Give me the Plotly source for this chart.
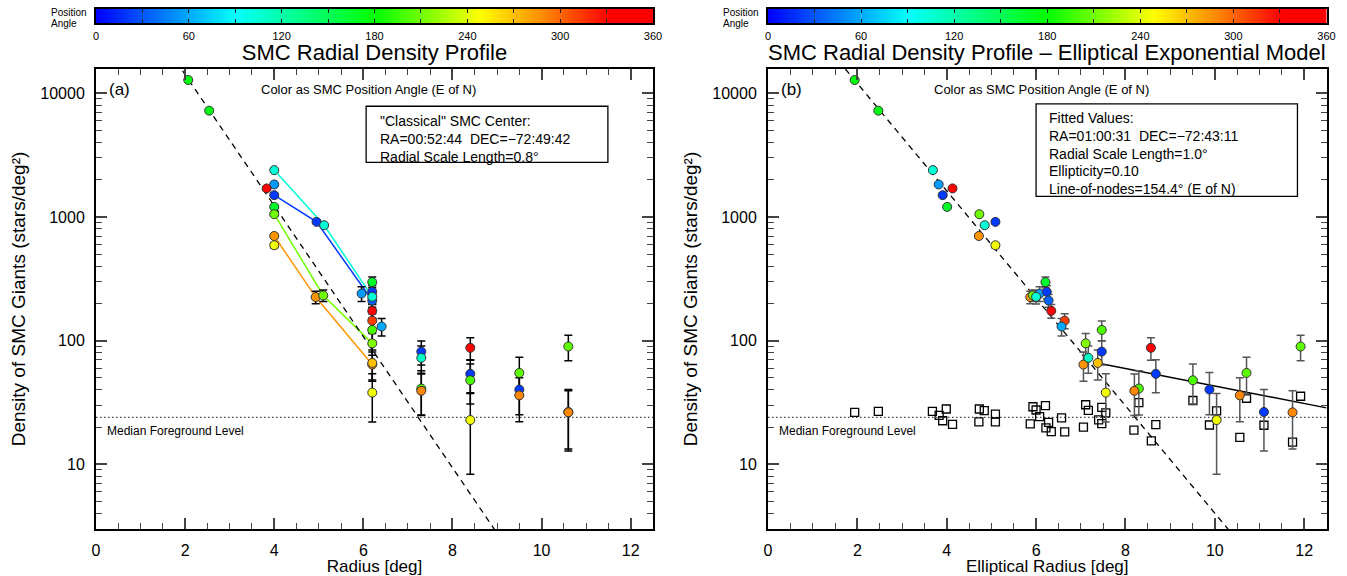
import numpy as np
import plotly.graph_objects as go
from plotly.colors import sample_colorscale

# ---- field measurements: position angle (deg E of N), radius, elliptical radius, density, error
field_pa = [175, 175, 105, 55, 20, 340, 165, 210, 285, 245, 20, 105, 285, 210, 55,
            165, 20, 35, 105, 340, 312, 200, 215, 285, 270, 245, 60,
            20, 110, 200, 290, 340, 20, 200, 245, 205, 20, 290, 205, 20, 290]
field_r = [2.07, 2.54, 4.00, 4.00, 4.00, 3.83, 4.00, 4.00, 4.00, 4.00, 4.95, 5.12, 4.93, 5.10, 5.96,
           6.20, 6.20, 6.20, 6.20, 6.20, 6.20, 6.20, 6.20, 6.20, 6.20, 6.20, 6.41,
           7.30, 7.30, 7.30, 7.30, 8.40, 8.40, 8.40, 8.40, 9.50, 9.50, 9.50, 10.60, 10.60, 10.60]
field_rell = [1.94, 2.47, 3.69, 3.82, 3.91, 4.13, 4.01, 4.73, 4.72, 5.09, 5.09, 4.85, 5.87, 5.93, 6.08,
              6.21, 6.24, 6.28, 6.00, 6.34, 6.64, 7.47, 7.11, 7.06, 7.38, 7.56, 6.57,
              7.47, 7.17, 8.30, 8.20, 8.57, 8.68, 9.51, 10.04, 10.71, 9.88, 10.56, 11.92, 11.10, 11.74]
field_dens = [12800, 7230, 2390, 1830, 1500, 1700, 1205, 1052, 701, 590, 912, 857, 225, 232, 240,
              297, 248, 211, 226, 174, 145, 122, 95, 64, 66, 38, 130,
              81.5, 72.6, 41.0, 39.3, 87.5, 53.9, 47.8, 22.8, 54.8, 40.2, 36.1, 89.6, 26.5, 26.3]
field_err = [250, 180, 60, 50, 45, 50, 40, 35, 30, 28, 25, 25, 26, 25, 33,
             30, 30, 25, 28, 22, 20, 22, 19, 17, 18, 16, 21,
             18, 18, 16, 14.5, 18, 16, 17, 14.5, 18.5, 15, 14, 21, 13.7, 13]

# foreground (background-field) densities vs elliptical radius
bg_rell = [1.94, 2.47, 3.68, 3.83, 3.99, 3.91, 4.13, 4.73, 4.84, 5.09, 4.72, 5.09,
           5.93, 6.00, 6.21, 6.08, 5.87, 6.28, 6.22, 6.34, 6.57, 6.64,
           7.11, 7.17, 7.06, 7.47, 7.56, 7.40, 7.47, 8.30, 8.19, 8.58, 8.68,
           9.51, 10.04, 9.88, 10.56, 10.71, 11.10, 11.74, 11.92]
bg_dens = [26.3, 26.8, 26.8, 24.9, 28.0, 22.5, 21.0, 28.0, 27.2, 25.5, 22.0, 22.0,
           29.2, 27.5, 29.8, 24.3, 21.2, 21.8, 19.7, 18.4, 23.7, 18.3,
           30.3, 27.3, 20.0, 28.9, 26.1, 22.9, 21.3, 31.5, 18.9, 15.5, 20.9,
           32.8, 27.0, 20.8, 16.5, 34.2, 20.7, 15.1, 35.5]

# fields along the same spoke, joined in panel (a)
spokes = [[2, 11, 18], [4, 10, 17], [7, 13, 22], [8, 12, 23]]

fg_level = 24.0               # median foreground level
# exponential models
h_a, n0_a = 0.82, 162000.0    # classical centre
h_b, n0_b = 1.0, 88700.0      # elliptical fit
h_halo, n0_halo, r_halo = 6.14, 219.0, 7.37

pa_ticks = [0, 60, 120, 180, 240, 300, 360]
pa_scale = list(range(0, 361))

colorscale = [[0.0, "rgb(0,0,255)"], [0.25, "rgb(0,255,255)"], [0.5, "rgb(0,255,0)"],
              [0.69, "rgb(255,255,0)"], [0.8, "rgb(255,140,0)"], [0.92, "rgb(255,0,0)"],
              [1.0, "rgb(255,0,0)"]]

FONT = "Liberation Sans"
W, H = 1347, 576
fig = go.Figure()

def pa_color(pa):
    return sample_colorscale(colorscale, [pa / 360.0])[0]

# ---------- panel (a)
for sp in spokes:
    fig.add_trace(go.Scatter(x=[field_r[i] for i in sp], y=[field_dens[i] for i in sp],
                             mode="lines", line=dict(color=pa_color(field_pa[sp[0]]), width=1.5),
                             xaxis="x", yaxis="y", hoverinfo="skip"))

rr = np.linspace(0, 12.5, 300)
fig.add_trace(go.Scatter(x=rr, y=n0_a * np.exp(-rr / h_a), mode="lines",
                         line=dict(color="black", width=1.3, dash="6px,5px"), xaxis="x", yaxis="y"))
fig.add_trace(go.Scatter(x=[0, 12.5], y=[fg_level, fg_level], mode="lines",
                         line=dict(color="#444", width=1.3, dash="1.5px,2.5px"), xaxis="x", yaxis="y"))
fig.add_trace(go.Scatter(
    x=field_r, y=field_dens, mode="markers", xaxis="x", yaxis="y",
    error_y=dict(type="data", array=field_err, color="black", thickness=1.5, width=4),
    marker=dict(size=9, color=field_pa, coloraxis="coloraxis", line=dict(color="#333", width=1))))

# ---------- panel (b)
fig.add_trace(go.Scatter(x=rr, y=n0_b * np.exp(-rr / h_b), mode="lines",
                         line=dict(color="black", width=1.3, dash="6px,5px"), xaxis="x2", yaxis="y2"))
rh = np.linspace(r_halo, 12.5, 50)
fig.add_trace(go.Scatter(x=rh, y=n0_halo * np.exp(-rh / h_halo), mode="lines",
                         line=dict(color="black", width=1.5), xaxis="x2", yaxis="y2"))
fig.add_trace(go.Scatter(x=[0, 12.5], y=[fg_level, fg_level], mode="lines",
                         line=dict(color="#444", width=1.3, dash="1.5px,2.5px"), xaxis="x2", yaxis="y2"))
fig.add_trace(go.Scatter(x=bg_rell, y=bg_dens, mode="markers", xaxis="x2", yaxis="y2",
                         marker=dict(symbol="square-open", size=8, color="black", line=dict(width=1.3))))
fig.add_trace(go.Scatter(
    x=field_rell, y=field_dens, mode="markers", xaxis="x2", yaxis="y2",
    error_y=dict(type="data", array=field_err, color="#555", thickness=1.5, width=4),
    marker=dict(size=9, color=field_pa, coloraxis="coloraxis", line=dict(color="#333", width=1))))

# ---------- position-angle colour strips above each panel
for xa, ya in (("x3", "y3"), ("x4", "y4")):
    fig.add_trace(go.Heatmap(z=[pa_scale], x=pa_scale, y=[0], colorscale=colorscale,
                             zmin=0, zmax=360, showscale=False, xaxis=xa, yaxis=ya, hoverinfo="skip"))

# ---------- axes
ylo, yhi = np.log10(3), np.log10(15700)
ydom = [1 - 529 / H, 1 - 69 / H]
xdoms = [[96 / W, 653 / W], [768 / W, 1326.5 / W]]
cbdom = [1 - 23 / H, 1 - 9 / H]
ytv = [10, 100, 1000, 10000]
ytitle = "Density of SMC Giants (stars/deg\u00b2)"

common_x = dict(range=[0, 12.5], dtick=2, tick0=0, ticks="inside", ticklen=11, tickwidth=1.5,
                minor=dict(dtick=0.5, ticks="inside", ticklen=6, tickwidth=1.2),
                mirror="allticks", showline=True, linewidth=2, linecolor="black",
                showgrid=False, zeroline=False, tickfont=dict(family=FONT, size=16, color="black"),
                ticklabelstandoff=6, automargin=False)
common_y = dict(type="log", range=[ylo, yhi], tickvals=ytv, ticktext=[str(v) for v in ytv],
                ticks="inside", ticklen=11, tickwidth=1.5,
                minor=dict(tickvals=[m * 10 ** e for e in range(0, 5) for m in range(2, 10)],
                           ticks="inside", ticklen=6, tickwidth=1.2),
                mirror="allticks", showline=True, linewidth=2, linecolor="black",
                showgrid=False, zeroline=False, tickfont=dict(family=FONT, size=16, color="black"),
                ticklabelstandoff=6, domain=ydom, automargin=False,
                title=dict(text=ytitle, font=dict(family=FONT, size=19, color="black"), standoff=10))
cb_x = dict(range=[0, 360], tickvals=pa_ticks, ticks="inside", ticklen=4, tickwidth=1, tickcolor="#222",
            minor=dict(dtick=30, ticks="inside", ticklen=4, tickwidth=1, tickcolor="#222"),
            mirror="allticks", showline=True, linewidth=1.5, linecolor="black", showgrid=False,
            zeroline=False, tickfont=dict(family=FONT, size=11, color="black"),
            ticklabelstandoff=2, automargin=False, fixedrange=True)
cb_y = dict(domain=cbdom, range=[-0.5, 0.5], showticklabels=False, ticks="", showline=True,
            linewidth=1.5, linecolor="black", mirror=True, showgrid=False, zeroline=False,
            automargin=False, fixedrange=True)

fig.update_layout(
    width=W, height=H, margin=dict(l=0, r=0, t=0, b=0),
    paper_bgcolor="white", plot_bgcolor="white", showlegend=False,
    title=dict(text="SMC Radial Density Profile", x=(96 + 653) / 2 / W, y=1 - 52 / H,
               xanchor="center", yanchor="middle", xref="paper", yref="paper",
               font=dict(family=FONT, size=22, color="black")),
    xaxis=dict(domain=xdoms[0], anchor="y",
               title=dict(text="Radius [deg]", font=dict(family=FONT, size=17, color="black"), standoff=4),
               **common_x),
    yaxis=dict(anchor="x", **common_y),
    xaxis2=dict(domain=xdoms[1], anchor="y2",
                title=dict(text="Elliptical Radius [deg]", font=dict(family=FONT, size=17, color="black"),
                           standoff=4),
                **common_x),
    yaxis2=dict(anchor="x2", **common_y),
    xaxis3=dict(domain=xdoms[0], anchor="y3", **cb_x),
    yaxis3=dict(anchor="x3", **cb_y),
    xaxis4=dict(domain=xdoms[1], anchor="y4", **cb_x),
    yaxis4=dict(anchor="x4", **cb_y),
    coloraxis=dict(colorscale=colorscale, cmin=0, cmax=360, showscale=False),
)

def txt(text, x, y, size, xref="paper", yref="paper", xanchor="center", yanchor="middle", angle=0):
    fig.add_annotation(text=text, x=x, y=y, xref=xref, yref=yref, xanchor=xanchor, yanchor=yanchor,
                       showarrow=False, textangle=angle,
                       font=dict(family=FONT, size=size, color="black"))

# second panel title and colour-strip labels
txt("SMC Radial Density Profile \u2013 Elliptical Exponential Model", (768 + 1326.5) / 2 / W, 1 - 52 / H, 22)
for xp in (49, 721):
    txt("Position", xp / W, 1 - 13 / H, 10, xanchor="left")
    txt("Angle", xp / W, 1 - 23 / H, 10, xanchor="left")

# in-panel labels
for ax, tag in (("x", "(a)"), ("x2", "(b)")):
    yax = "y" if ax == "x" else "y2"
    txt(tag, 0.02, 0.956, 17, xref=f"{ax} domain", yref=f"{yax} domain", xanchor="left")
    txt("Color as SMC Position Angle (E of N)", 0.49, 0.956, 13,
        xref=f"{ax} domain", yref=f"{yax} domain")
    txt("Median Foreground Level", 0.2, np.log10(18.7), 12, xref=ax, yref=yax, xanchor="left")

# info boxes
boxes = [
    ("x", "y", [0.485, 0.919, 0.797, 0.919], 0.506,
     ['"Classical" SMC Center:', "RA=00:52:44  DEC=\u221272:49:42",
      f"Radial Scale Length={h_a:.1f}\u00b0"], 122),
    ("x2", "y2", [0.480, 0.948, 0.723, 0.924], 0.50,
     ["Fitted Values:", "RA=01:00:31  DEC=\u221272:43:11", f"Radial Scale Length={h_b:.1f}\u00b0",
      "Ellipticity=0.10", "Line-of-nodes=154.4\u00b0 (E of N)"], 119),
]
for ax, yax, (x0, x1, y0, y1), xt, lines, ytop in boxes:
    fig.add_shape(type="rect", xref=f"{ax} domain", yref=f"{yax} domain", x0=x0, x1=x1, y0=y0, y1=y1,
                  line=dict(color="black", width=1.3), fillcolor="white", layer="above")
    for k, ln in enumerate(lines):
        yp = ytop + 17.7 * k
        txt(ln, xt, (529 - yp) / 459, 14, xref=f"{ax} domain", yref=f"{yax} domain", xanchor="left")

fig.write_html("out.html")
